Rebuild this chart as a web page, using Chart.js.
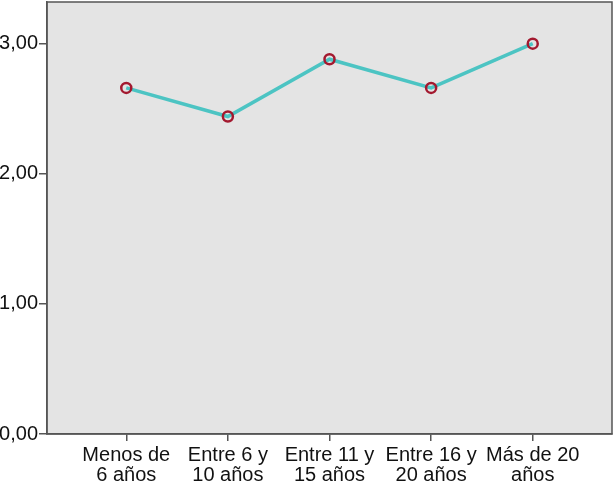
<!DOCTYPE html>
<html>
<head>
<meta charset="utf-8">
<script src="https://cdn.jsdelivr.net/npm/chart.js@4/dist/chart.umd.min.js"></script>
<style>
  html, body { margin: 0; padding: 0; background: #fff; }
  #wrap { width: 614px; height: 484px; }
</style>
</head>
<body>
<div id="wrap"><canvas id="chart"></canvas></div>
<script>
// data
const categories = [['Menos de', '6 años'], ['Entre 6 y', '10 años'], ['Entre 11 y', '15 años'], ['Entre 16 y', '20 años'], ['Más de 20', 'años']];
const meanValues = [2.66, 2.44, 2.88, 2.66, 3.00];
const yTicks = [0, 1, 2, 3];

const axisColor = '#555555';

// grey plot background plus frame round the chart area
const plotFrame = {
    id: 'plotFrame',
    beforeDraw(chart) {
        const { ctx, chartArea: a } = chart;
        ctx.save();
        ctx.fillStyle = '#e4e4e4';
        ctx.fillRect(a.left, a.top, a.right - a.left, a.bottom - a.top);
        ctx.restore();
    },
    afterDatasetsDraw(chart) {
        const { ctx, chartArea: a } = chart;
        ctx.save();
        ctx.strokeStyle = axisColor;
        ctx.lineWidth = 1.5;
        ctx.strokeRect(a.left, a.top, a.right - a.left, a.bottom - a.top);
        ctx.restore();
    }
};

new Chart(document.getElementById('chart'), {
    type: 'line',
    data: {
        datasets: [{
            data: meanValues.map((v, i) => ({ x: i + 1, y: v })),
            borderColor: '#4cc4c3',
            borderWidth: 3.5,
            pointRadius: 5,
            pointBorderWidth: 2.5,
            pointBorderColor: '#a3192f',
            pointBackgroundColor: 'rgba(0,0,0,0)',
            tension: 0
        }]
    },
    options: {
        responsive: true,
        maintainAspectRatio: false,
        animation: false,
        layout: { autoPadding: false, padding: { top: 2, right: 2, left: 0, bottom: 0 } },
        plugins: { legend: { display: false }, tooltip: { enabled: false } },
        scales: {
            x: {
                type: 'linear',
                min: 0.22,
                max: 5.78,
                afterBuildTicks(scale) {
                    scale.ticks = categories.map((c, i) => ({ value: i + 1 }));
                },
                afterFit(scale) {
                    scale.height = 50;
                    scale.paddingLeft = 0;
                    scale.paddingRight = 0;
                },
                grid: { drawOnChartArea: false, tickLength: 7, color: axisColor, lineWidth: 1.5 },
                border: { color: axisColor, width: 1.5 },
                ticks: {
                    autoSkip: false,
                    maxRotation: 0,
                    padding: 4,
                    color: '#111',
                    font: { family: 'Liberation Sans', size: 20, lineHeight: 1.0 },
                    callback: (v) => categories[v - 1]
                }
            },
            y: {
                min: 0,
                max: 3.32,
                afterBuildTicks(scale) {
                    scale.ticks = yTicks.map(v => ({ value: v }));
                },
                afterFit(scale) {
                    scale.width = 47;
                    scale.paddingTop = 0;
                    scale.paddingBottom = 0;
                },
                grid: { drawOnChartArea: false, tickLength: 8, color: axisColor, lineWidth: 1.5 },
                border: { color: axisColor, width: 1.5 },
                ticks: {
                    padding: 1,
                    color: '#111',
                    font: { family: 'Liberation Sans', size: 20 },
                    callback: (v) => v.toFixed(2).replace('.', ',')
                }
            }
        }
    },
    plugins: [plotFrame]
});
</script>
</body>
</html>
